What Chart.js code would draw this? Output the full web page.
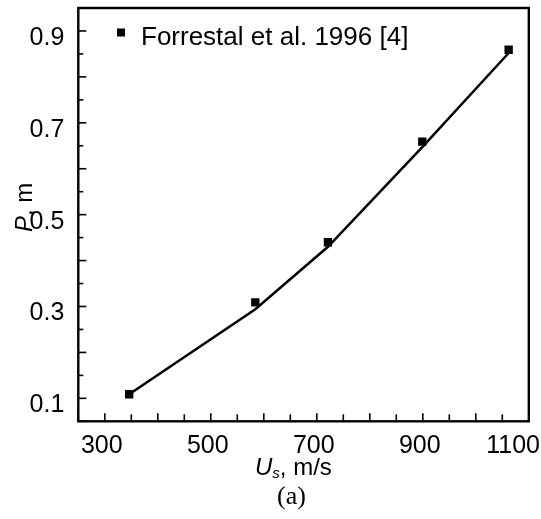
<!DOCTYPE html>
<html>
<head>
<meta charset="utf-8">
<script src="https://cdn.jsdelivr.net/npm/chart.js@4.4.1/dist/chart.umd.min.js"></script>
<style>
body { margin: 0; background: #fff; }
canvas { display: block; }
</style>
</head>
<body>
<canvas id="chart" width="541" height="519"></canvas>
<script>
// Forrestal et al. 1996 test points
let expU = [346, 584, 721, 899, 1062]
let expP = [0.109, 0.309, 0.440, 0.659, 0.859]
// computed penetration curve
let modelU = [346, 584, 721, 899, 1062]
let modelP = [0.109, 0.294, 0.430, 0.647, 0.852]

let xTickLabels = [300, 500, 700, 900, 1100]
let yTickLabels = [0.1, 0.3, 0.5, 0.7, 0.9]
let legendText = 'Forrestal et al. 1996 [4]'

const sans = '"Liberation Sans", Arial, sans-serif'
const serif = '"Liberation Serif", "Times New Roman", serif'

// inward ticks, labels, titles, frame and legend
const frame = {
    id: 'frame',
    afterDraw(chart) {
        const ctx = chart.ctx, a = chart.chartArea
        const xs = chart.scales.x, ys = chart.scales.y
        ctx.save()
        ctx.strokeStyle = '#000'
        ctx.fillStyle = '#000'

        ctx.lineWidth = 1.6
        xs.ticks.forEach(t => {
            let px = xs.getPixelForValue(t.value)
            let len = Math.round(t.value) % 100 == 0 ? 8 : 7
            ctx.beginPath()
            ctx.moveTo(px, a.bottom)
            ctx.lineTo(px, a.bottom - len)
            ctx.stroke()
        })
        ys.ticks.forEach(t => {
            let py = ys.getPixelForValue(t.value)
            let len = Math.round(t.value * 100) % 10 == 0 ? 8 : 5
            ctx.beginPath()
            ctx.moveTo(a.left, py)
            ctx.lineTo(a.left + len, py)
            ctx.stroke()
        })

        ctx.lineWidth = 2.4
        ctx.strokeRect(a.left, a.top, a.right - a.left, a.bottom - a.top)

        // tick labels
        ctx.font = '25px ' + sans
        ctx.textBaseline = 'alphabetic'
        ctx.textAlign = 'center'
        xTickLabels.forEach(v => {
            let s = String(v)
            let w = ctx.measureText(s).width
            let px = xs.getPixelForValue(v) - 3
            if (px + w / 2 > chart.width - 1) px = chart.width - 1 - w / 2
            ctx.fillText(s, px, a.bottom + 32)
        })
        ctx.textAlign = 'right'
        yTickLabels.forEach(v => {
            let py = ys.getPixelForValue(v)
            ctx.fillText(v.toFixed(1), a.left - 14, py + 14)
        })

        // x title: U_s, m/s
        ctx.textAlign = 'left'
        let x = 255, base = 475
        ctx.font = 'italic 24px ' + sans
        ctx.fillText('U', x, base)
        x += ctx.measureText('U').width
        ctx.font = 'italic 15px ' + sans
        ctx.fillText('s', x, base + 3)
        x += ctx.measureText('s').width
        ctx.font = '24px ' + sans
        ctx.fillText(', m/s', x, base)

        // y title: P, m
        ctx.save()
        ctx.translate(32, 232)
        ctx.rotate(-Math.PI / 2)
        ctx.font = 'italic 24px ' + sans
        ctx.fillText('P', 0, 0)
        let pw = ctx.measureText('P').width
        ctx.font = '24px ' + sans
        ctx.fillText(', m', pw, 0)
        ctx.restore()

        // caption
        ctx.textAlign = 'center'
        ctx.font = '26px ' + serif
        ctx.fillText('(a)', 291.5, 504)

        // legend
        ctx.fillRect(117, 28.5, 8, 8)
        ctx.textAlign = 'left'
        ctx.font = '26px ' + sans
        ctx.fillText(legendText, 141, 45)

        ctx.restore()
    }
}

const expData = expU.map((u, i) => ({ x: u, y: expP[i] }))
const modelData = modelU.map((u, i) => ({ x: u, y: modelP[i] }))

new Chart(document.getElementById('chart'), {
    type: 'scatter',
    data: {
        datasets: [
            {
                label: 'Model',
                data: modelData,
                showLine: true,
                borderColor: '#000',
                borderWidth: 2.5,
                pointRadius: 0
            },
            {
                label: legendText,
                data: expData,
                pointStyle: 'rect',
                pointRadius: 5.9,
                pointBorderWidth: 0,
                backgroundColor: '#000',
                borderColor: '#000'
            }
        ]
    },
    options: {
        responsive: false,
        animation: false,
        devicePixelRatio: 1,
        layout: { padding: { left: 78.3, top: 8, right: 12.2, bottom: 97.7 } },
        scales: {
            x: {
                type: 'linear',
                min: 250,
                max: 1100,
                ticks: { display: false, stepSize: 50 },
                grid: { display: false },
                border: { display: false },
                afterFit: s => { s.height = 0 }
            },
            y: {
                type: 'linear',
                min: 0.05,
                max: 0.95,
                ticks: { display: false, stepSize: 0.05 },
                grid: { display: false },
                border: { display: false },
                afterFit: s => { s.width = 0 }
            }
        },
        plugins: {
            legend: { display: false },
            tooltip: { enabled: false }
        }
    },
    plugins: [frame]
});
</script>
</body>
</html>
